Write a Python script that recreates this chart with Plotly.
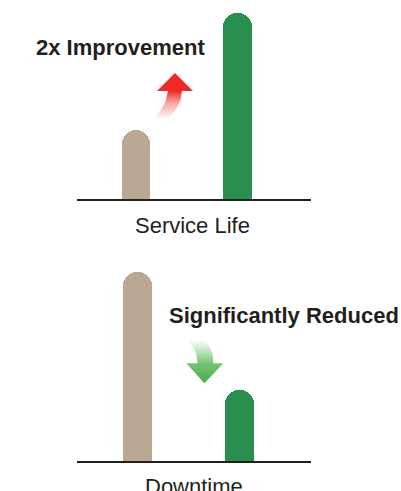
import plotly.graph_objects as go

# ---- data -------------------------------------------------------------
panels = ["Service Life", "Downtime"]
products = ["Conventional", "New"]
service_life = [37, 100]
downtime = [102, 38]
callouts = ["2x Improvement", "Significantly Reduced"]

# ---- style ------------------------------------------------------------
W, H = 401, 491
TAN = "#bba792"
GREEN = "#288f4f"
INK = "#231f20"
FONT = "Liberation Sans, Arial, Helvetica, sans-serif"

X_RANGE = [-0.58, 1.72]
X2_RANGE = [-0.595, 1.705]
X_DOMAIN = [77 / W, 311 / W]
Y1_DOMAIN = [1 - 199 / H, 1 - 13 / H]
Y1_RANGE = [0, 100]
Y2_DOMAIN = [1 - 461 / H, 1 - 266 / H]
Y2_RANGE = [0, 105]

PX_PER_X = (X_DOMAIN[1] - X_DOMAIN[0]) * W / (X_RANGE[1] - X_RANGE[0])
PX_PER_Y = (Y1_DOMAIN[1] - Y1_DOMAIN[0]) * H / (Y1_RANGE[1] - Y1_RANGE[0])

xpos = [0, 1]
colors = [TAN, GREEN]

fig = go.Figure()

fig.add_trace(go.Bar(x=xpos, y=service_life, width=0.284, marker=dict(color=colors, cornerradius="50%", line=dict(width=0)),
                     xaxis="x", yaxis="y", hoverinfo="skip", showlegend=False))
fig.add_trace(go.Bar(x=xpos, y=downtime, width=0.284, marker=dict(color=colors, cornerradius="50%", line=dict(width=0)),
                     xaxis="x2", yaxis="y2", hoverinfo="skip", showlegend=False))


def quad(p0, c, p1, n=14):
    pts = []
    for i in range(n + 1):
        t = i / n
        x = (1 - t) ** 2 * p0[0] + 2 * (1 - t) * t * c[0] + t ** 2 * p1[0]
        y = (1 - t) ** 2 * p0[1] + 2 * (1 - t) * t * c[1] + t ** 2 * p1[1]
        pts.append((x, y))
    return pts


def to_data(pts, ax, ay):
    # local offsets in screen pixels (y downwards) -> data coordinates
    xs = [ax + dx / PX_PER_X for dx, dy in pts]
    ys = [ay - dy / PX_PER_Y for dx, dy in pts]
    return xs, ys


# curved "up" arrow between the Service Life bars
up_tip = (0.383, 67.7)
up_pts = [(0, 0), (18, 18), (7, 18)]
up_pts += quad((7, 18), (6, 36), (-9, 46))[1:]
up_pts += quad((-21, 45), (-9, 34), (-7, 18))
up_pts += [(-18, 18), (0, 0)]
ux, uy = to_data(up_pts, *up_tip)
fig.add_trace(go.Scatter(
    x=ux, y=uy, mode="lines", fill="toself", line=dict(width=0, color="rgba(0,0,0,0)"),
    fillgradient=dict(type="vertical", start=up_tip[1] - 46 / PX_PER_Y, stop=up_tip[1] - 18 / PX_PER_Y,
                      colorscale=[[0, "rgba(238,42,36,0)"], [0.5, "rgba(240,90,85,0.45)"], [1, "rgba(238,42,36,1)"]]),
    xaxis="x", yaxis="y", hoverinfo="skip", showlegend=False))

# curved "down" arrow between the Downtime bars
dn_tip = (0.657, 41.9)
dn_pts = [(0, 0), (19, -20), (9, -20)]
dn_pts += quad((9, -20), (9, -38), (-3, -44))[1:]
dn_pts += quad((-16, -42), (-7, -34), (-7, -20))
dn_pts += [(-18, -20), (0, 0)]
gx, gy = to_data(dn_pts, *dn_tip)
fig.add_trace(go.Scatter(
    x=gx, y=gy, mode="lines", fill="toself", line=dict(width=0, color="rgba(0,0,0,0)"),
    fillgradient=dict(type="vertical", start=dn_tip[1], stop=dn_tip[1] + 44 / PX_PER_Y,
                      colorscale=[[0, "rgba(72,172,78,1)"], [0.45, "rgba(100,190,100,0.9)"], [1, "rgba(120,200,120,0)"]]),
    xaxis="x2", yaxis="y2", hoverinfo="skip", showlegend=False))

axis_common = dict(domain=X_DOMAIN, showgrid=False, zeroline=False, showticklabels=False,
                   ticks="", showline=True, linecolor=INK, linewidth=2, fixedrange=True)
yaxis_common = dict(showgrid=False, zeroline=False, showticklabels=False, ticks="", showline=False, fixedrange=True)

fig.update_layout(
    width=W, height=H,
    margin=dict(l=0, r=0, t=0, b=0),
    paper_bgcolor="white", plot_bgcolor="white",
    font=dict(family=FONT, color=INK),
    bargap=0,
    xaxis=dict(anchor="y", range=X_RANGE, **axis_common),
    yaxis=dict(anchor="x", domain=Y1_DOMAIN, range=Y1_RANGE, **yaxis_common),
    xaxis2=dict(anchor="y2", range=X2_RANGE, **axis_common),
    yaxis2=dict(anchor="x2", domain=Y2_DOMAIN, range=Y2_RANGE, **yaxis_common),
    annotations=[
        dict(text=panels[0], xref="x domain", yref="y domain", x=0.5, y=0, xshift=-2, yshift=-26,
             yanchor="middle", xanchor="center", showarrow=False, font=dict(size=22, color=INK)),
        dict(text=panels[1], xref="x2 domain", yref="y2 domain", x=0.5, y=0, yshift=-25,
             yanchor="middle", xanchor="center", showarrow=False, font=dict(size=22, color=INK)),
        dict(text="<b>" + callouts[0] + "</b>", xref="x", yref="y", x=-0.156, y=81.7,
             xanchor="center", yanchor="middle", showarrow=False, font=dict(size=22, color=INK)),
        dict(text="<b>" + callouts[1] + "</b>", xref="x2", yref="y2", x=1.44, y=78.5,
             xanchor="center", yanchor="middle", showarrow=False, font=dict(size=22, color=INK)),
    ],
)

fig.write_html("out.html", config=dict(displayModeBar=False))
